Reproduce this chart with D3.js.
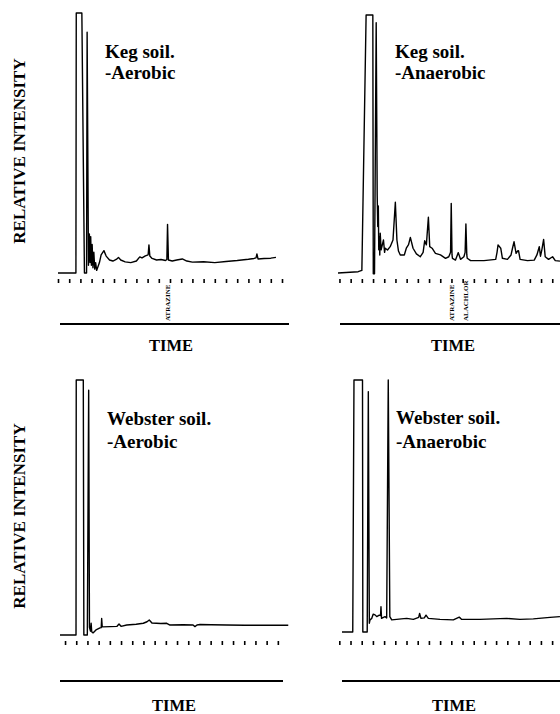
<!DOCTYPE html>
<html>
<head>
<meta charset="utf-8">
<script src="https://cdn.jsdelivr.net/npm/d3@7"></script>
<style>
  body { margin: 0; background: #fff; }
  svg { display: block; }
  text { font-family: "Liberation Serif", "DejaVu Serif", serif; font-weight: bold; fill: #000; }
</style>
</head>
<body>
<div id="chart"></div>
<script>
// chromatogram traces: [time (min), relative intensity (% of full scale)]
var kegAerobic = [
  [0,0],[1.6,0],[1.63,100],[2.13,100],[2.36,0],[2.55,0],[2.6,92.6],[2.72,3],
  [2.8,15],[2.86,4],[2.92,14],[2.98,3],[3.05,11],[3.12,2],[3.2,8],[3.28,1.5],[3.36,4],[3.45,1],
  [3.7,4],[3.85,7],[4.1,8.6],[4.3,6.5],[4.6,5],[4.9,4.6],[5.2,5.2],[5.4,6],[5.6,5],[6.0,4.3],
  [6.5,4.0],[7.0,4.6],[7.3,6.2],[7.5,5.8],[7.8,6.6],[8.05,7.0],[8.12,10.8],[8.2,6.5],[8.4,5.6],[8.8,5.0],
  [9.2,5.2],[9.6,4.8],[9.72,5.2],[9.78,18.7],[9.86,5.0],[10.2,4.6],[10.6,5.0],[11.1,5.4],[11.5,4.6],[12.0,4.2],
  [13,4.3],[14,4.0],[15,4.4],[16,4.8],[17,5.3],[17.5,5.6],[17.68,5.8],[17.76,7.3],[17.86,5.4],[18.4,5.6],
  [19.0,5.7],[19.46,6.0]
];

var kegAnaerobic = [
  [0,0],[1.8,0.5],[2.13,1],[2.51,100],[3.11,100],[3.15,-0.3],[3.26,-0.3],[3.41,97],
  [3.5,30],[3.55,18],[3.6,26],[3.64,9],[3.69,14],[3.73,7],[3.77,15.4],[3.85,9],[3.92,10.2],
  [4.06,12.8],[4.16,8],[4.22,9.6],[4.42,8.9],[4.66,10.2],[4.91,12.8],[5.12,27.4],[5.26,12.8],
  [5.4,8.5],[5.56,7.0],[5.92,7.0],[6.10,9.6],[6.3,11],[6.46,13.8],[6.70,9.6],[7.0,7.4],[7.35,6.3],
  [7.6,8],[7.74,12.5],[7.89,10.9],[8.07,21.6],[8.19,10.2],[8.40,9.6],[8.70,7.6],[9.15,7.0],[9.60,5.7],
  [9.89,6.3],[10.05,8],[10.11,27.0],[10.18,7],[10.22,5.7],[10.49,5.0],[10.74,7.9],[10.94,5.3],
  [11.24,6.3],[11.35,8],[11.42,19.0],[11.5,7],[11.54,5.7],[11.84,4.8],[13.03,4.8],[14.08,5.3],
  [14.2,8],[14.29,10.9],[14.53,9.6],[14.68,5.7],[15.13,5.3],[15.45,7],[15.58,9.6],[15.72,12.1],
  [15.90,7.6],[16.05,8.6],[16.12,8.6],[16.26,5.3],[16.92,4.8],[17.52,5.0],[17.76,7],[17.97,10.2],
  [18.08,6.5],[18.2,9],[18.36,13],[18.5,6.3],[18.8,5.3],[19.16,6.3],[19.4,4.8],[19.82,4.6]
];

var websterAerobic = [
  [0,0],[1.43,0],[1.45,100],[2.08,100],[2.13,0],[2.44,0],[2.56,96],[2.63,3],[2.72,1.5],
  [2.78,4.6],[2.83,1.5],[2.88,1],[2.97,0.9],[3.21,2],[3.57,2.8],[3.68,2.9],[3.72,6.5],[3.77,3.2],
  [4.46,3.3],[5.09,3.4],[5.27,4.3],[5.45,3.4],[5.96,3.9],[6.8,4.2],[7.44,4.6],[7.77,5.2],[7.97,5.9],
  [8.21,4.7],[9.0,4.5],[9.53,4.6],[9.82,3.9],[11.0,4.0],[11.88,3.9],[12.05,3.3],[12.23,3.9],[12.5,4.1],
  [13.5,4.0],[14.88,3.9],[16.5,3.8],[17.86,3.8],[19.3,3.8],[20.38,3.8]
];

var websterAnaerobic = [
  [0,0],[0.96,0],[1.07,100],[1.83,100],[1.86,0],[2.25,0],[2.35,95.4],[2.44,3.5],[2.5,4.8],
  [2.65,5.4],[2.79,7.1],[2.95,6.8],[3.1,6.1],[3.33,6.7],[3.44,6.5],[3.48,10],[3.53,5.4],[3.84,6.1],
  [3.99,5.6],[4.13,100],[4.27,6.1],[4.44,4.8],[4.88,5.0],[5.3,5.2],[5.78,5.4],[6.37,5.0],[6.85,5.8],
  [6.93,7.4],[7.05,5.4],[7.35,5.6],[7.5,6.7],[7.71,5.4],[8.75,5.0],[9.94,4.8],[10.47,5.9],[10.69,5.0],
  [12.32,5.0],[14.71,5.4],[15.89,5.0],[17.08,5.2],[18.57,5.8],[19.46,6.1]
];

var panelTitles = [
  ["Keg soil.", "-Aerobic"],
  ["Keg soil.", "-Anaerobic"],
  ["Webster soil.", "-Aerobic"],
  ["Webster soil.", "-Anaerobic"]
];

// identified peaks: [panel index, compound, retention time]
var peakLabels = [
  [0, "ATRAZINE", 9.78],
  [1, "ATRAZINE", 10.11],
  [1, "ALACHLOR", 11.42]
];

var axisTitle = "TIME";
var yTitle = "RELATIVE INTENSITY";

var traces = [kegAerobic, kegAnaerobic, websterAerobic, websterAnaerobic];

// layout of each panel on the page
var panels = [
  {x0: 58,  base: 273, top: 13,  tickY: 279, lineY: 324, line: [60, 289],  tick0: 0,     textX: 105, textY: 58,  gap: 21, timeX: 171, timeY: 351},
  {x0: 338, base: 273, top: 15,  tickY: 279, lineY: 324, line: [340, 560], tick0: 0.13,  textX: 395, textY: 58,  gap: 21, timeX: 453, timeY: 351},
  {x0: 60,  base: 635, top: 380, tickY: 641, lineY: 681, line: [60, 283],  tick0: 0.45,  textX: 107, textY: 425, gap: 23, timeX: 174, timeY: 711},
  {x0: 342, base: 632, top: 380, tickY: 641, lineY: 681, line: [342, 560], tick0: -0.24, textX: 396, textY: 424, gap: 24, timeX: 454, timeY: 711}
];

var W = 560, H = 714, pxPerMin = 11.2;
var serif = '"Liberation Serif", "DejaVu Serif", serif';

var svg = d3.select("#chart").append("svg")
    .attr("width", W)
    .attr("height", H);

panels.forEach(function (p, i) {
  var x = d3.scaleLinear().domain([0, 20]).range([p.x0, p.x0 + 20 * pxPerMin]);
  var y = d3.scaleLinear().domain([0, 100]).range([p.base, p.top]);
  var g = svg.append("g").attr("class", "panel");

  var line = d3.line()
      .x(function (d) { return x(d[0]); })
      .y(function (d) { return y(d[1]); });

  g.append("path")
      .datum(traces[i])
      .attr("d", line)
      .attr("fill", "none")
      .attr("stroke", "#000")
      .attr("stroke-width", 1.4)
      .attr("stroke-linejoin", "round");

  // event marks along the time axis
  var tickAxis = d3.axisBottom(x)
      .tickValues(d3.range(p.tick0, 20.3, 1))
      .tickSize(4)
      .tickFormat("");
  var ax = g.append("g")
      .attr("transform", "translate(0," + p.tickY + ")")
      .call(tickAxis);
  ax.select(".domain").remove();
  ax.selectAll(".tick line").attr("stroke", "#000").attr("stroke-width", 1.6);

  g.append("line")
      .attr("x1", p.line[0]).attr("x2", p.line[1])
      .attr("y1", p.lineY).attr("y2", p.lineY)
      .attr("stroke", "#000")
      .attr("stroke-width", 2);

  g.append("text")
      .attr("x", p.timeX)
      .attr("y", p.timeY)
      .attr("text-anchor", "middle")
      .style("font-family", serif)
      .style("font-size", "16.5px")
      .text(axisTitle);

  g.selectAll(".title")
    .data(panelTitles[i])
    .enter().append("text")
      .attr("class", "title")
      .attr("x", p.textX)
      .attr("y", function (d, j) { return p.textY + j * p.gap; })
      .style("font-family", serif)
      .style("font-size", "19px")
      .text(function (d) { return d; });

  peakLabels.filter(function (d) { return d[0] === i; }).forEach(function (d) {
    g.append("text")
        .attr("transform", "translate(" + (x(d[2]) + 2.5) + "," + (p.lineY - 3) + ") rotate(-90)")
        .style("font-family", serif)
        .style("font-size", "7px")
        .text(d[1]);
  });
});

[151, 516].forEach(function (cy) {
  svg.append("text")
      .attr("transform", "translate(25," + cy + ") rotate(-90)")
      .attr("text-anchor", "middle")
      .style("font-family", serif)
      .style("font-size", "17px")
      .text(yTitle);
});
</script>
</body>
</html>
